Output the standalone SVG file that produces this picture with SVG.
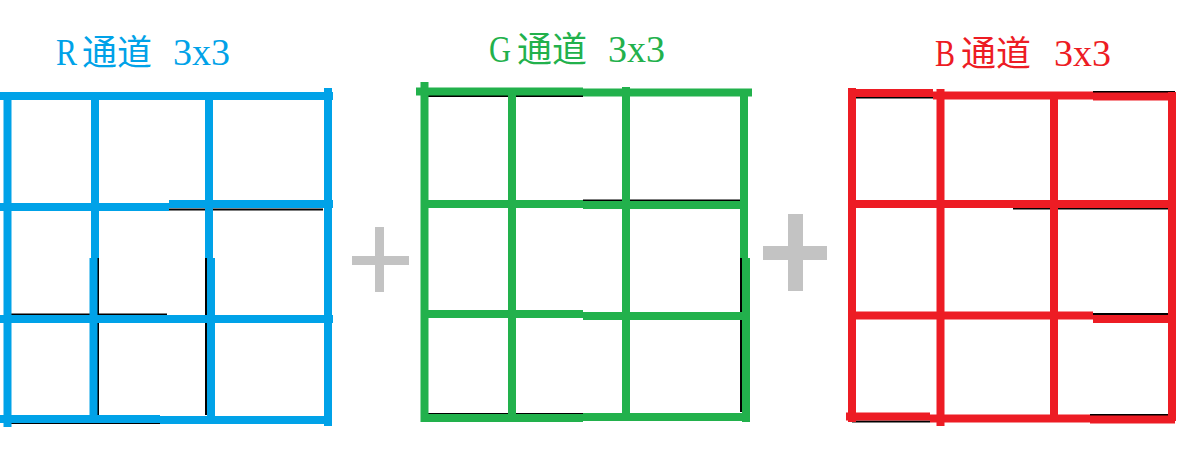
<svg xmlns="http://www.w3.org/2000/svg" width="1194" height="474" viewBox="0 0 1194 474">
<style>
  .t { font-family: "Liberation Serif", "Noto Sans CJK SC", serif; font-size: 35px; }
  .l { font-size: 38px; }
  .d { font-size: 37px; }
  .blk { stroke: #000; stroke-width: 2; fill: none; }
  .r { stroke: #00a2e8; stroke-width: 8; fill: none; stroke-linecap: butt; }
  .g { stroke: #22b14c; stroke-width: 8; fill: none; stroke-linecap: butt; }
  .b { stroke: #ed1c24; stroke-width: 8; fill: none; stroke-linecap: butt; }
  .plus { fill: #c3c3c3; }
</style>
<rect width="1194" height="474" fill="#ffffff"/>

<g id="r-channel">
  <text class="t" fill="#00a2e8" y="65"><tspan class="l" x="56" textLength="21" lengthAdjust="spacingAndGlyphs">R</tspan><tspan x="82">通道 </tspan><tspan class="d" x="173" textLength="57" lengthAdjust="spacingAndGlyphs">3x3</tspan></text>
  <g class="blk">
    <path d="M168 209.5H323M10 314.5H167M98 258V420M206 258V415M10 423H160"/>
  </g>
  <g class="r">
    <path d="M0 96H333"/>
    <path d="M0 207H169M169 204H333"/>
    <path d="M0 319H333"/>
    <path d="M0 419H160M160 420H330"/>
    <path d="M7.5 92V427"/>
    <path d="M328 88V426"/>
    <path d="M95 96V258M93.5 258V422"/>
    <path d="M209 96V258M211 258V422"/>
  </g>
</g>

<g id="plus-1">
  <rect class="plus" x="375" y="227" width="9" height="65"/>
  <rect class="plus" x="352" y="256" width="57" height="9"/>
</g>

<g id="g-channel">
  <text class="t" fill="#22b14c" y="62"><tspan class="l" x="489" textLength="22" lengthAdjust="spacingAndGlyphs">G</tspan><tspan x="517">通道 </tspan><tspan class="d" x="608" textLength="57" lengthAdjust="spacingAndGlyphs">3x3</tspan></text>
  <g class="blk">
    <path d="M428 96H583M583 200.5H740M428 414H583M741 258V412"/>
  </g>
  <g class="g">
    <path d="M416 91.5H583M583 92.5H752"/>
    <path d="M424 204H583M583 205H745"/>
    <path d="M424 314H583M583 316H745"/>
    <path d="M424 418H583M583 417H748"/>
    <path d="M424.5 82V422"/>
    <path d="M512 92V418"/>
    <path d="M626 87V418"/>
    <path d="M744 92V258M746 258V422"/>
  </g>
</g>

<g id="plus-2">
  <rect class="plus" x="788" y="214" width="15" height="77"/>
  <rect class="plus" x="763" y="246" width="64" height="14"/>
</g>

<g id="b-channel">
  <text class="t" fill="#ed1c24" y="66"><tspan class="l" x="935" textLength="20" lengthAdjust="spacingAndGlyphs">B</tspan><tspan x="961">通道 </tspan><tspan class="d" x="1054" textLength="57" lengthAdjust="spacingAndGlyphs">3x3</tspan></text>
  <g class="blk">
    <path d="M855 97.5H933M1093 92H1175M1013 208.5H1168M943 313H1012M1093 314H1168M852 421.5H930M1090 415H1170"/>
  </g>
  <g class="b">
    <path d="M848 93H933M933 95.5H1093M1093 96.5H1175"/>
    <path d="M852 204H1172"/>
    <path d="M852 315.5H1093M1093 319H1172"/>
    <path d="M846 416.5H930M930 418.5H1090M1090 419.5H1175"/>
    <path d="M852 88V422"/>
    <path d="M940.5 89V426"/>
    <path d="M1054 97V418"/>
    <path d="M1172 92V421"/>
  </g>
</g>
</svg>
